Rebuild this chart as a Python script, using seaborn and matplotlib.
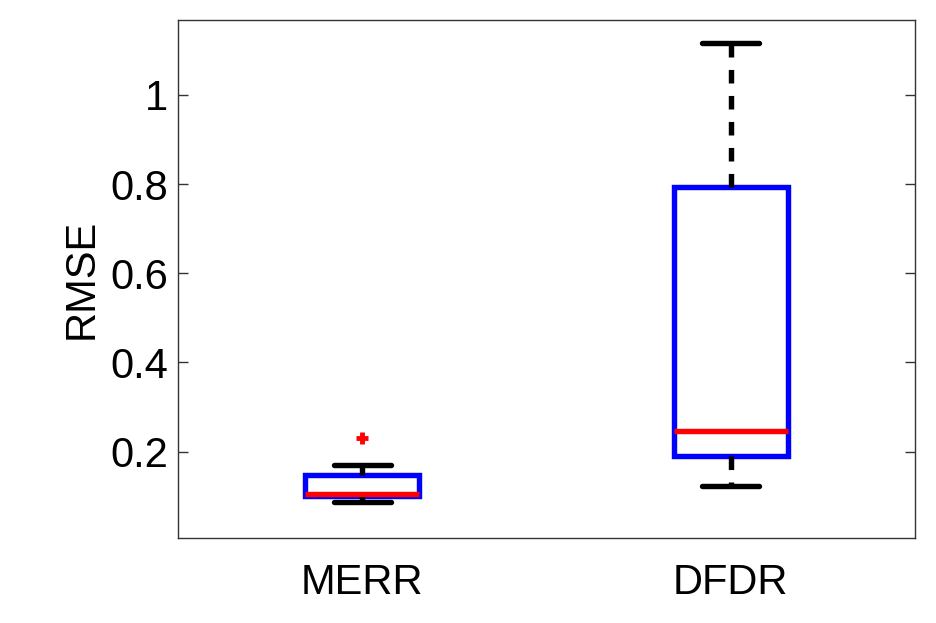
import pandas as pd
import seaborn as sns
import matplotlib
matplotlib.use('Agg')
import matplotlib.pyplot as plt

# Values (whisker ends, quartiles, median, outlier)
methods = ['MERR', 'DFDR']
merr_rmse = [0.087, 0.101, 0.101, 0.105, 0.105, 0.1475, 0.1475, 0.170, 0.230]
dfdr_rmse = [0.123, 0.191, 0.247, 0.794, 1.1165]
y_ticks = [0.2, 0.4, 0.6, 0.8, 1.0]
y_tick_labels = ['0.2', '0.4', '0.6', '0.8', '1']

data = pd.DataFrame({
    'Method': [methods[0]] * len(merr_rmse) + [methods[1]] * len(dfdr_rmse),
    'RMSE': merr_rmse + dfdr_rmse,
})

sns.set_style('white')
plt.rcParams['font.family'] = ['Liberation Sans', 'DejaVu Sans']
plt.rcParams['text.color'] = 'black'
plt.rcParams['axes.labelcolor'] = 'black'
plt.rcParams['xtick.color'] = 'black'
plt.rcParams['ytick.color'] = 'black'

fig = plt.figure(figsize=(9.36, 6.23), dpi=100)
ax = fig.add_axes([0.1902, 0.1364, 0.7874, 0.8316])

lw = 3.9
sns.boxplot(
    x='Method', y='RMSE', data=data, order=methods, ax=ax,
    width=0.31, whis=1.5, linewidth=lw,
    boxprops=dict(facecolor='white', edgecolor='blue', linewidth=lw),
    medianprops=dict(color='red', linewidth=lw),
    whiskerprops=dict(color='black', linewidth=lw, linestyle=(0, (2.5, 2.3))),
    capprops=dict(color='black', linewidth=lw),
    flierprops=dict(marker='+', markeredgecolor='red', markerfacecolor='red',
                    markersize=8, markeredgewidth=3.5),
)

ax.set_xlim(-0.5, 1.5)
ax.set_ylim(0.006, 1.168)
ax.set_yticks(y_ticks)
ax.set_yticklabels(y_tick_labels)

ax.set_xlabel('')
ax.set_ylabel('RMSE', fontsize=30, labelpad=6)
ax.tick_params(axis='y', direction='in', length=7, width=1, left=True, right=True,
               labelsize=30, pad=7, color='#333333')
ax.tick_params(axis='x', length=0, labelsize=30, pad=18)

for spine in ax.spines.values():
    spine.set_visible(True)
    spine.set_color('#333333')
    spine.set_linewidth(1.0)

fig.savefig('out.png', dpi=100)
